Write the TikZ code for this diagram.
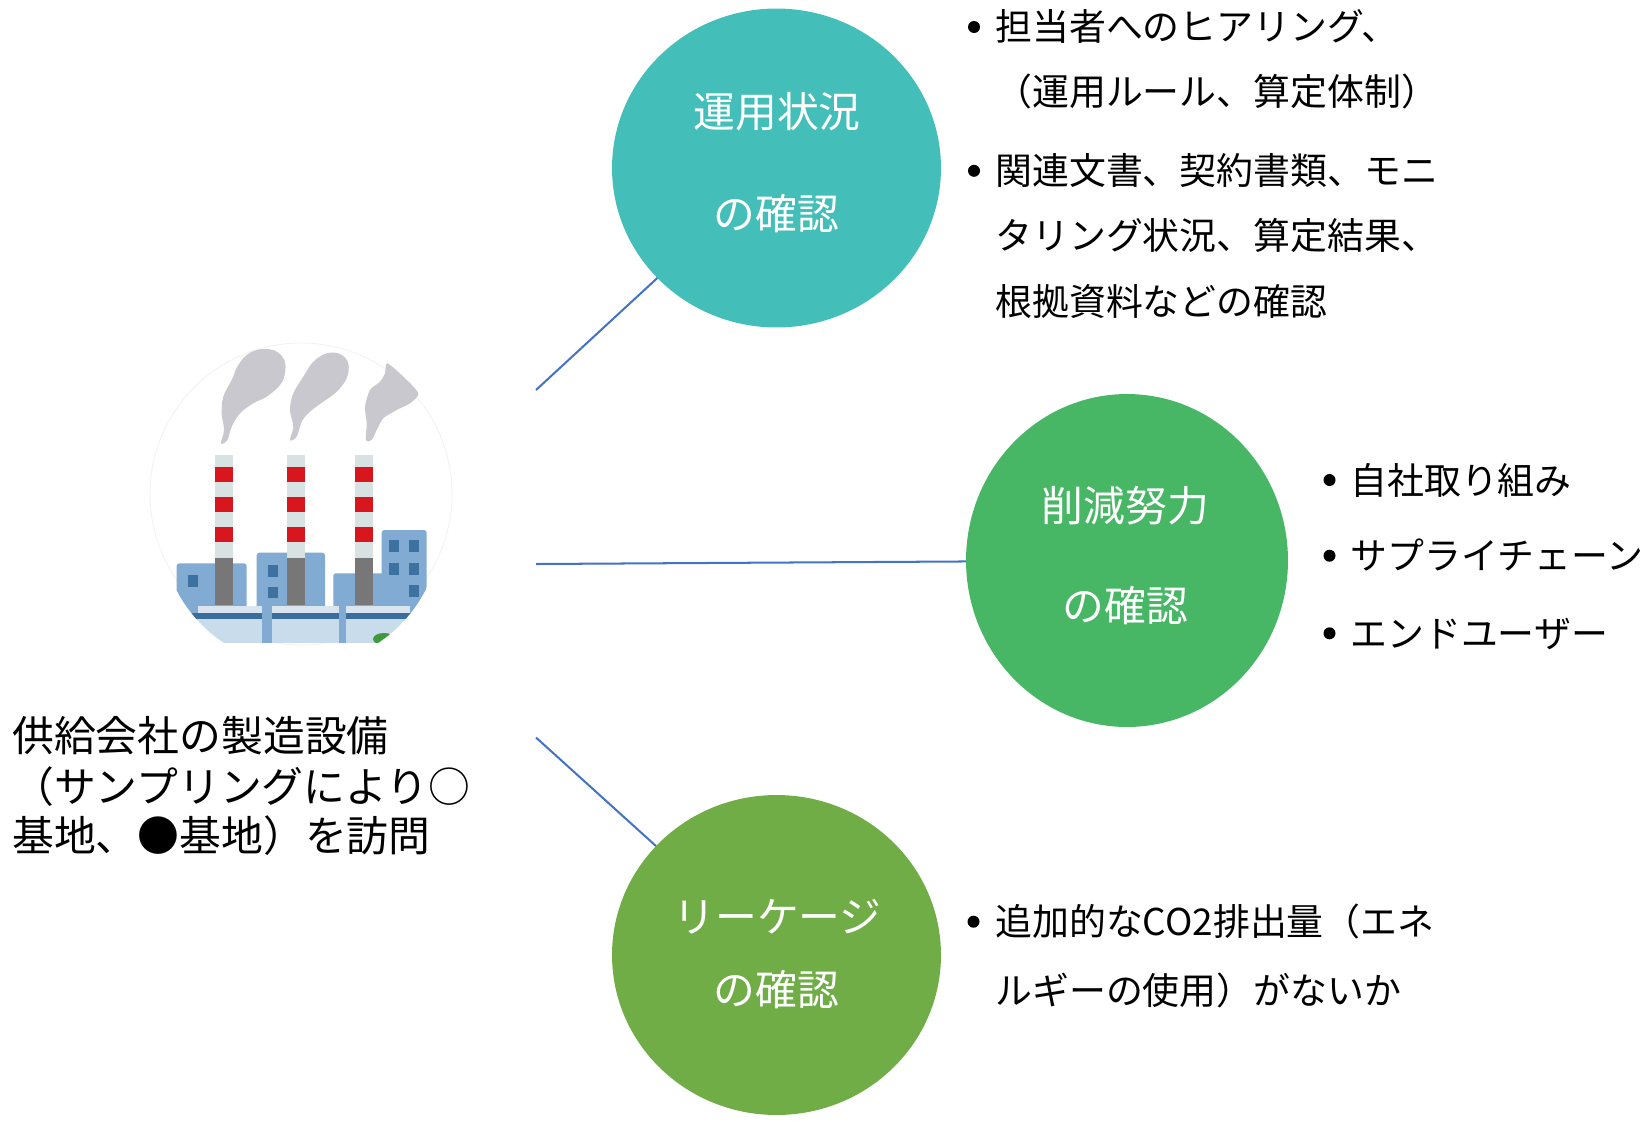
\documentclass[tikz,border=0pt]{standalone}
\usepackage{fontspec}
\newfontfamily\jpfont{Noto Sans CJK JP}
\usetikzlibrary{shapes.geometric}

\definecolor{tealfill}{RGB}{67,190,184}
\definecolor{greenfill}{RGB}{71,183,101}
\definecolor{limefill}{RGB}{112,173,71}
\definecolor{linkblue}{RGB}{68,114,196}
\definecolor{bldg}{RGB}{130,171,211}
\definecolor{winblue}{RGB}{61,113,159}
\definecolor{stackpale}{RGB}{217,226,226}
\definecolor{stackred}{RGB}{215,22,30}
\definecolor{stackdark}{RGB}{119,119,119}
\definecolor{smokegray}{RGB}{200,200,206}
\definecolor{deckpale}{RGB}{217,228,238}
\definecolor{decklow}{RGB}{201,220,236}
\definecolor{rail}{RGB}{58,110,156}
\definecolor{bush}{RGB}{62,154,58}

\begin{document}
\begin{tikzpicture}[x=0.02cm, y=-0.02cm,
  bubble/.style={ellipse, inner sep=0pt, outer sep=0pt, draw=none},
  bubbletext/.style={text=white, inner sep=0pt, anchor=center,
    font=\jpfont\fontsize{23.8}{28}\selectfont, text height=20.9pt, text depth=2.9pt},
  notetext/.style={anchor=west, inner sep=0pt,
    font=\jpfont\fontsize{23.8}{28}\selectfont, text height=20.9pt, text depth=2.9pt},
  listtext/.style={anchor=west, inner sep=0pt,
    font=\jpfont\fontsize{21}{25}\selectfont, text height=18.5pt, text depth=2.5pt},
  dot/.style={circle, fill=black, inner sep=0pt, minimum size=0.24cm},
  conn/.style={draw=linkblue, line width=1.15pt},
]
\useasboundingbox (0,0) rectangle (1652,1120);

% ---------- factory illustration ----------
\draw[black!5, line width=0.5pt] (301,494) circle [radius=151];

% smoke plumes
\fill[smokegray] plot[smooth cycle, tension=0.6] coordinates {
  (221,443.3) (224,430) (221.7,413.3) (223.3,396.7) (231.7,380) (237.3,366.7)
  (246.7,355) (260,349.3) (275,350.7) (284.3,360) (285,373.3) (280,385)
  (266.7,396.7) (253.3,403.3) (240,413.3) (231.7,426.7) (227.3,440)};
\fill[smokegray] plot[smooth cycle, tension=0.6] coordinates {
  (290,440) (293.3,426.7) (290,410) (293.3,393.3) (303.3,376.7) (313.3,361.7)
  (326.7,353.3) (340,354) (348.3,363.3) (346.7,378.3) (336.7,391.7)
  (323.3,401.7) (310,411.7) (301.7,421.7) (296.7,436.7)};
\fill[smokegray] plot[smooth cycle, tension=0.45] coordinates {
  (366,440) (366.7,423.3) (365,406.7) (370,390) (380,381.7) (385,373.3)
  (387.3,363.3) (403.3,376.7) (418.3,393.3) (410,403.3) (396.7,410)
  (383.3,418.3) (376.7,430) (371.7,440)};

\begin{scope}
  \clip (301,526) circle [radius=140];
  \clip (0,0) rectangle (1652,642);
  % buildings
  \fill[bldg, rounded corners=1.5pt] (176.7,563.3) rectangle (246.7,613);
  \fill[bldg, rounded corners=1.5pt] (256.7,552.7) rectangle (325,613);
  \fill[bldg, rounded corners=1.5pt] (333.3,573.3) rectangle (395,613);
  \fill[bldg, rounded corners=1.5pt] (381.7,530) rectangle (426.7,613);
  % windows
  \fill[winblue] (188.3,575) rectangle (198.3,586.7);
  \fill[winblue] (268.3,565) rectangle (278.3,576.7);
  \fill[winblue] (268.3,586.7) rectangle (278.3,598.3);
  \fill[winblue] (389.3,540) rectangle (399.3,551.7);
  \fill[winblue] (409.3,540) rectangle (419.3,551.7);
  \fill[winblue] (389.3,563.3) rectangle (399.3,575);
  \fill[winblue] (409.3,563.3) rectangle (419.3,575);
  \fill[winblue] (409.3,585) rectangle (419.3,596.7);
  % chimneys
  \foreach \cx in {215,286.7,355} {
    \fill[stackpale] (\cx,455) rectangle ++(18.3,103.3);
    \fill[stackred] (\cx,466.7) rectangle ++(18.3,15);
    \fill[stackred] (\cx,496.7) rectangle ++(18.3,15);
    \fill[stackred] (\cx,526.7) rectangle ++(18.3,15);
    \fill[stackdark] (\cx,558.3) rectangle ++(18.3,46.7);
  }
  % deck
  \fill[deckpale] (198.3,605.7) rectangle (410,612.7);
  \fill[rail] (120,612.7) rectangle (480,619.3);
  \fill[decklow] (120,619.3) rectangle (480,660);
  \fill[bldg] (262.3,605.7) rectangle (271.7,660);
  \fill[bldg] (339.3,605.7) rectangle (346,660);
  \fill[bush] (384,639) ellipse [x radius=11, y radius=6];
\end{scope}

% ---------- caption under the factory ----------
\node[notetext] (cap1) at (12,736) {供給会社の製造設備};
\node[notetext] (cap2) at (12,787) {（サンプリングにより○};
\node[notetext] (cap3) at (12,836) {基地、●基地）を訪問};

% ---------- check bubbles ----------
\node[bubble, fill=tealfill, minimum width=6.58cm, minimum height=6.38cm] (check1) at (776.5,168) {};
\node[bubble, fill=greenfill, minimum width=6.44cm, minimum height=6.66cm] (check2) at (1127,560.5) {};
\node[bubble, fill=limefill, minimum width=6.58cm, minimum height=6.40cm] (check3) at (776.5,955) {};

\node[bubbletext] (t1a) at (777,111.7) {運用状況};
\node[bubbletext] (t1b) at (776.5,214) {の確認};
\node[bubbletext] (t2a) at (1125.5,505.7) {削減努力};
\node[bubbletext] (t2b) at (1125.5,605.8) {の確認};
\node[bubbletext] (t3a) at (777.5,916.6) {リーケージ};
\node[bubbletext] (t3b) at (776.5,990) {の確認};

% ---------- connectors ----------
\coordinate (from1) at (536,390);
\coordinate (from2) at (536,564);
\coordinate (from3) at (536,737.5);
\draw[conn] (from1) -- (check1);
\draw[conn] (from2) -- (check2);
\draw[conn] (from3) -- (check3);

% ---------- bullet lists ----------
\node[dot] (b1) at (974,27) {};
\node[listtext] (r1a) at (995,26.7) {担当者へのヒアリング、};
\node[listtext] (r1b) at (995,91) {（運用ルール、算定体制）};
\node[dot] (b2) at (974,170.8) {};
\node[listtext] (r2a) at (995,170.8) {関連文書、契約書類、モニ};
\node[listtext] (r2b) at (995,235) {タリング状況、算定結果、};
\node[listtext] (r2c) at (995,301.7) {根拠資料などの確認};

\node[dot] (b3) at (1329.5,480) {};
\node[listtext] (r3) at (1350,480) {自社取り組み};
\node[dot] (b4) at (1329.5,555.7) {};
\node[listtext] (r4) at (1350,555.7) {サプライチェーン};
\node[dot] (b5) at (1329.5,633.3) {};
\node[listtext] (r5) at (1350,633.3) {エンドユーザー};

\node[dot] (b6) at (973.5,921.7) {};
\node[listtext] (r6a) at (995,921.7) {追加的なCO2排出量（エネ};
\node[listtext] (r6b) at (995,990) {ルギーの使用）がないか};
\end{tikzpicture}
\end{document}
